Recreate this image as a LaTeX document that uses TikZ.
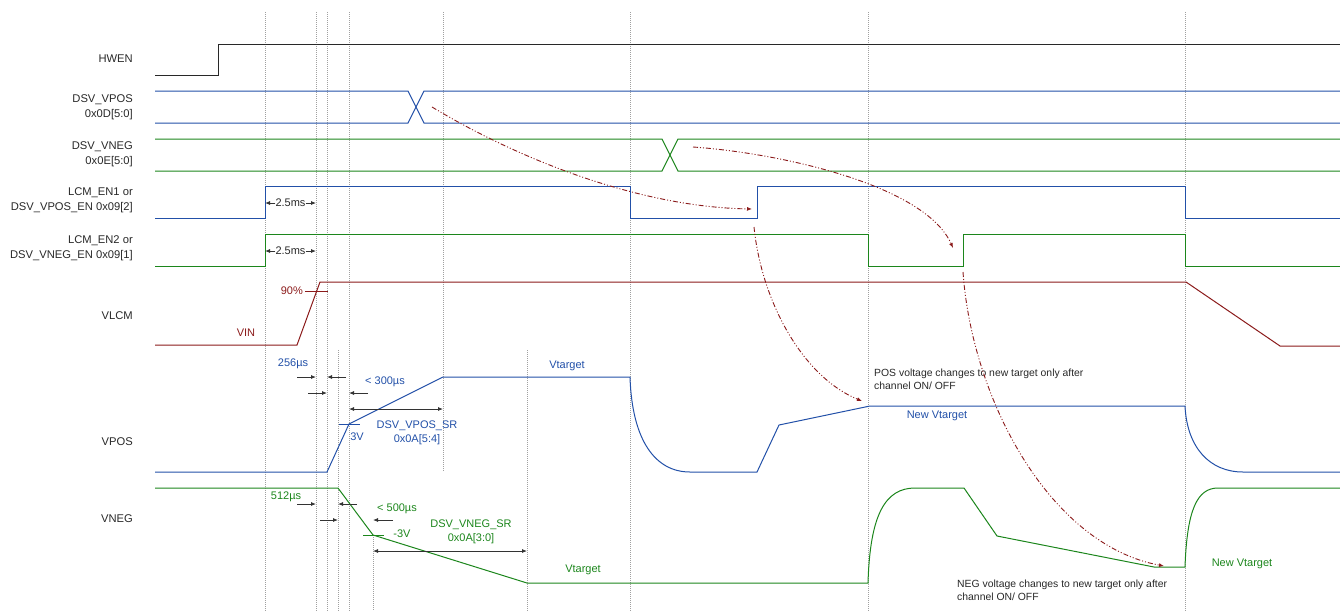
\documentclass[tikz,border=0pt]{standalone}
\usepackage{fontspec}
\setmainfont{Liberation Sans}
\usetikzlibrary{arrows.meta}
\definecolor{sblue}{RGB}{34,80,168}
\definecolor{sgreen}{RGB}{28,134,28}
\definecolor{sred}{RGB}{139,26,26}
\definecolor{sgray}{RGB}{40,40,40}
\definecolor{dotgray}{RGB}{160,160,160}
\begin{document}
\begin{tikzpicture}[x=1pt,y=-1pt,
 sig/.style={line width=1pt, line join=miter},
 gridline/.style={draw=dotgray, line width=0.7pt, dash pattern=on 1pt off 1pt},
 lbl/.style={font=\fontsize{11.2}{15}\selectfont, text=sgray, align=right, anchor=east, inner sep=0pt},
 ann/.style={font=\fontsize{11}{14}\selectfont, inner sep=0pt},
 note/.style={font=\fontsize{10.4}{13.5}\selectfont, inner sep=0pt, align=left, anchor=west, text=sgray},
 dimarrow/.style={-{Latex[length=5pt,width=4pt]}, line width=0.8pt, draw=black!80},
 ddimarrow/.style={{Latex[length=5pt,width=4pt]}-{Latex[length=5pt,width=4pt]}, line width=0.8pt, draw=black!80},
 tick/.style={line width=1pt},
 cause/.style={draw=sred, line width=0.9pt, dash pattern=on 5pt off 2pt on 1pt off 2pt on 1pt off 2pt, -{Latex[length=5pt,width=4pt]}},
]
\useasboundingbox (0,0) rectangle (1340,611);

% ---- grid lines ----
\foreach \x in {265,316,327,349,630,868,1185} \draw[gridline] (\x,12) -- (\x,611);
\draw[gridline] (443,12) -- (443,472);
\draw[gridline] (338,350) -- (338,611);
\draw[gridline] (527,350) -- (527,611);
\draw[gridline] (373,535) -- (373,611);

% ---- labels ----
\node[lbl] (lhwen) at (133,59) {HWEN};
\node[lbl] (lvpos) at (133,107.5) {DSV\_VPOS\\0x0D[5:0]};
\node[lbl] (lvneg) at (133,154.5) {DSV\_VNEG\\0x0E[5:0]};
\node[lbl] (len1) at (133,200.5) {LCM\_EN1 or\\DSV\_VPOS\_EN 0x09[2]};
\node[lbl] (len2) at (133,248.5) {LCM\_EN2 or\\DSV\_VNEG\_EN 0x09[1]};
\node[lbl] (lvlcm) at (133,316) {VLCM};
\node[lbl] (lvposw) at (133,442) {VPOS};
\node[lbl] (lvnegw) at (133,519) {VNEG};

% ---- waveforms ----
\draw[sig, sgray] (155,75) -- (218,75) -- (218,44) -- (1340,44);
\draw[sig, sblue] (155,91) -- (408,91) -- (424,123) -- (1340,123);
\draw[sig, sblue] (155,123) -- (408,123) -- (424,91) -- (1340,91);
\draw[sig, sgreen] (155,139) -- (662,139) -- (678,171) -- (1340,171);
\draw[sig, sgreen] (155,171) -- (662,171) -- (678,139) -- (1340,139);
\draw[sig, sblue] (155,218) -- (265,218) -- (265,186) -- (630,186) -- (630,218) -- (757,218) -- (757,186) -- (1185,186) -- (1185,218) -- (1340,218);
\draw[sig, sgreen] (155,266) -- (265,266) -- (265,234) -- (868,234) -- (868,266) -- (963,266) -- (963,234) -- (1185,234) -- (1185,266) -- (1340,266);
\draw[sig, sred] (155,345) -- (297,345) -- (320,282) -- (1186,282) -- (1280,346) -- (1340,346);
\draw[sig, sblue] (155,472) -- (327,472) -- (349,424) -- (443,377) -- (630,377)
  .. controls (632,440) and (655,472) .. (690,472) -- (757,472) -- (779,425) -- (870,406) -- (1185,406)
  .. controls (1187,448) and (1210,472) .. (1243,472) -- (1340,472);
\draw[sig, sgreen] (155,488) -- (338,488) -- (373,535) -- (527,583) -- (868,583)
  .. controls (870,515) and (885,488) .. (915,488) -- (964,488) -- (997,536) -- (1154,567) -- (1185,567)
  .. controls (1187,510) and (1197,488) .. (1218,488) -- (1340,488);

% ---- 2.5ms ----
\node[ann, text=sgray] (t25a) at (290.5,203) {2.5ms};
\coordinate (a25l) at (265,203); \coordinate (a25r) at (316,203);
\draw[dimarrow] (t25a.west) -- (a25l);
\draw[dimarrow] (t25a.east) -- (a25r);
\node[ann, text=sgray] (t25b) at (290.5,251) {2.5ms};
\coordinate (b25l) at (265,251); \coordinate (b25r) at (316,251);
\draw[dimarrow] (t25b.west) -- (b25l);
\draw[dimarrow] (t25b.east) -- (b25r);

% ---- VLCM annotations ----
\node[ann, text=sred, anchor=east] (t90) at (303,291) {90\%};
\coordinate (k90a) at (305,291); \coordinate (k90b) at (328,291);
\draw[tick, sred] (k90a) -- (k90b);
\node[ann, text=sred] (tvin) at (246,333) {VIN};

% ---- VPOS annotations ----
\node[ann, text=sblue] (t256) at (293,364) {256µs};
\coordinate (p1a) at (297,377); \coordinate (p1b) at (316,377);
\coordinate (p2a) at (346,377); \coordinate (p2b) at (327,377);
\coordinate (p3a) at (308,393); \coordinate (p3b) at (327,393);
\coordinate (p4a) at (368,393); \coordinate (p4b) at (349,393);
\draw[dimarrow] (p1a) -- (p1b);
\draw[dimarrow] (p2a) -- (p2b);
\draw[dimarrow] (p3a) -- (p3b);
\draw[dimarrow] (p4a) -- (p4b);
\node[ann, text=sblue] (t300) at (385,382) {< 300µs};
\coordinate (psrA) at (349,409); \coordinate (psrB) at (443,409);
\draw[ddimarrow] (psrA) -- (psrB);
\coordinate (k3a) at (339,424); \coordinate (k3b) at (360,424);
\draw[tick, sblue] (k3a) -- (k3b);
\node[ann, text=sblue] (t3v) at (357,437) {3V};
\node[ann, text=sblue, align=center] (tpsr) at (417,433) {DSV\_VPOS\_SR\\0x0A[5:4]};
\node[ann, text=sblue] (tvt1) at (567,366) {Vtarget};
\node[ann, text=sblue] (tnvt1) at (937,416) {New Vtarget};

% ---- VNEG annotations ----
\node[ann, text=sgreen] (t512) at (286,497) {512µs};
\coordinate (n1a) at (297,504); \coordinate (n1b) at (316,504);
\coordinate (n2a) at (357,504); \coordinate (n2b) at (338,504);
\coordinate (n3a) at (320,520); \coordinate (n3b) at (338,520);
\coordinate (n4a) at (393,520); \coordinate (n4b) at (373,520);
\draw[dimarrow] (n1a) -- (n1b);
\draw[dimarrow] (n2a) -- (n2b);
\draw[dimarrow] (n3a) -- (n3b);
\draw[dimarrow] (n4a) -- (n4b);
\node[ann, text=sgreen] (t500) at (397,509) {< 500µs};
\coordinate (k3na) at (363,535); \coordinate (k3nb) at (384,535);
\draw[tick, sgreen] (k3na) -- (k3nb);
\node[ann, text=sgreen] (tm3v) at (402,534) {-3V};
\node[ann, text=sgreen, align=center] (tnsr) at (471,532) {DSV\_VNEG\_SR\\0x0A[3:0]};
\coordinate (nsrA) at (373,551); \coordinate (nsrB) at (527,551);
\draw[ddimarrow] (nsrA) -- (nsrB);
\node[ann, text=sgreen] (tvt2) at (583,570) {Vtarget};
\node[ann, text=sgreen] (tnvt2) at (1242,564) {New Vtarget};

% ---- notes ----
\node[note] (npos) at (874,379.5) {POS voltage changes to new target only after\\channel ON/ OFF};
\node[note] (nneg) at (957,590.5) {NEG voltage changes to new target only after\\channel ON/ OFF};

% ---- cause arrows ----
\coordinate (c1s) at (432,107); \coordinate (c1e) at (752,209);
\draw[cause] (c1s) .. controls (520,160) and (640,207) .. (c1e);
\coordinate (c2s) at (693,147); \coordinate (c2e) at (953,248);
\draw[cause] (c2s) .. controls (780,153) and (925,185) .. (c2e);
\coordinate (c3s) at (754,227); \coordinate (c3e) at (862,401);
\draw[cause] (c3s) .. controls (762,305) and (805,378) .. (c3e);
\coordinate (c4s) at (963,272); \coordinate (c4e) at (1164,566);
\draw[cause] (c4s) .. controls (972,400) and (1050,545) .. (c4e);
\end{tikzpicture}
\end{document}
